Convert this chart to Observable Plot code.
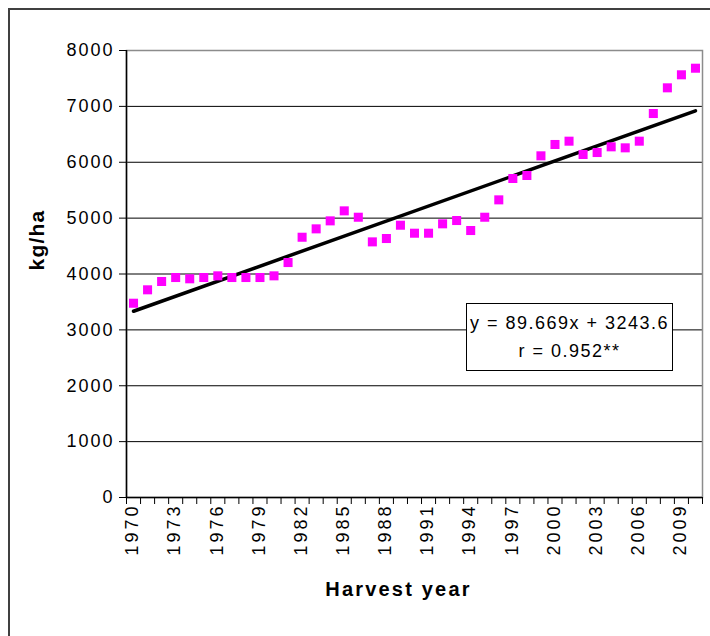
<!DOCTYPE html>
<html><head><meta charset="utf-8">
<script src="https://cdn.jsdelivr.net/npm/d3@7"></script>
<script src="https://cdn.jsdelivr.net/npm/@observablehq/plot@0.6"></script>
<style>
body{margin:0;background:#fff;}
#wrap{position:relative;width:710px;height:636px;overflow:hidden;font-family:"Liberation Sans",Arial,sans-serif;}
#border{position:absolute;left:8px;top:8px;width:800px;height:700px;border:2px solid #404040;box-sizing:border-box;}
#chart{position:absolute;left:0;top:0;}
#eq{position:absolute;left:466px;top:303px;width:207px;height:68px;box-sizing:border-box;border:1.5px solid #000;background:#fff;text-align:center;font-size:18px;letter-spacing:1.5px;line-height:28px;padding-top:5px;color:#000;}
</style></head><body>
<div id="wrap"><div id="border"></div><div id="chart"></div><div id="eq"></div></div>
<script>
const years = [1970,1971,1972,1973,1974,1975,1976,1977,1978,1979,1980,1981,1982,1983,1984,1985,1986,1987,1988,1989,1990,1991,1992,1993,1994,1995,1996,1997,1998,1999,2000,2001,2002,2003,2004,2005,2006,2007,2008,2009,2010];
const yields = [3477,3717,3866,3937,3914,3937,3967,3937,3937,3937,3967,4205,4658,4808,4951,5130,5016,4575,4635,4873,4730,4730,4898,4957,4778,5016,5327,5709,5763,6115,6318,6377,6139,6174,6276,6258,6377,6872,7332,7565,7683];
const labelYears = [1970,1973,1976,1979,1982,1985,1988,1991,1994,1997,2000,2003,2006,2009];
const yTicks = [0,1000,2000,3000,4000,5000,6000,7000,8000];
const trendSlope = 89.669;
const trendIntercept = 3243.6;
const eqLines = ["y = 89.669x + 3243.6", "r = 0.952**"];
const yLabel = "kg/ha";
const xLabel = "Harvest year";

const data = years.map((y, i) => ({year: y, v: yields[i]}));
const first = years[0], last = years[years.length - 1];
const trend = [first, last].map(y => ({year: y, v: trendSlope * (y - first + 1) + trendIntercept}));
const edges = years.map(y => y - 0.5).concat([last + 0.5]);
const xDomain = [first - 0.5, last + 0.5];

const chart = Plot.plot({
  width: 710, height: 636,
  marginLeft: 126, marginRight: 8, marginTop: 50, marginBottom: 139,
  style: {fontFamily: '"Liberation Sans", Arial, sans-serif', fontSize: "18px", color: "#000", background: "transparent", overflow: "visible"},
  x: {domain: xDomain},
  y: {domain: [0, 8000]},
  marks: [
    Plot.gridY(yTicks.filter(v => v > 0 && v < 8000), {stroke: "#000", strokeOpacity: 1, strokeWidth: 1}),
    Plot.frame({stroke: "#8c8c8c", strokeWidth: 1.5}),
    Plot.ruleX([xDomain[0]], {stroke: "#000", strokeWidth: 1.5}),
    Plot.ruleY([0], {stroke: "#000", strokeWidth: 1.5}),
    Plot.axisY({ticks: yTicks, tickSize: 7, tickPadding: 5, tickFormat: d => String(d), label: null, stroke: "#000", fontSize: 18}),
    Plot.axisX({ticks: edges, tickSize: 7, tickFormat: () => "", label: null, stroke: "#000"}),
    Plot.axisX({ticks: labelYears, tickSize: 0, tickPadding: 6, tickRotate: -90, tickFormat: d => String(d), label: null, fontSize: 18, dx: -1}),
    Plot.line(trend, {x: "year", y: "v", stroke: "#000", strokeWidth: 3.5}),
    Plot.dot(data, {x: "year", y: "v", symbol: "square", r: 5.1, fill: "#FF00FF", stroke: "none"}),
    Plot.text([yLabel], {frameAnchor: "left", textAnchor: "middle", lineAnchor: "middle", rotate: -90, dx: -89, dy: -34, fontWeight: "bold", fontSize: 21}),
    Plot.text([xLabel], {frameAnchor: "bottom", textAnchor: "middle", lineAnchor: "middle", dx: -16, dy: 92, fontWeight: "bold", fontSize: 20})
  ]
});
const svg = d3.select(chart);
svg.selectAll('g[aria-label="y-axis tick label"] text').style("letter-spacing", "2px");
svg.selectAll('g[aria-label="x-axis tick label"] text').style("letter-spacing", "3px");
svg.selectAll('g[aria-label="text"] text').each(function() {
  const t = d3.select(this).text();
  d3.select(this).style("letter-spacing", t === xLabel ? "2.2px" : "1.2px");
});
document.getElementById("chart").appendChild(chart);
document.getElementById("eq").innerHTML = eqLines.map(s => `<div>${s}</div>`).join("");
</script>
</body></html>
